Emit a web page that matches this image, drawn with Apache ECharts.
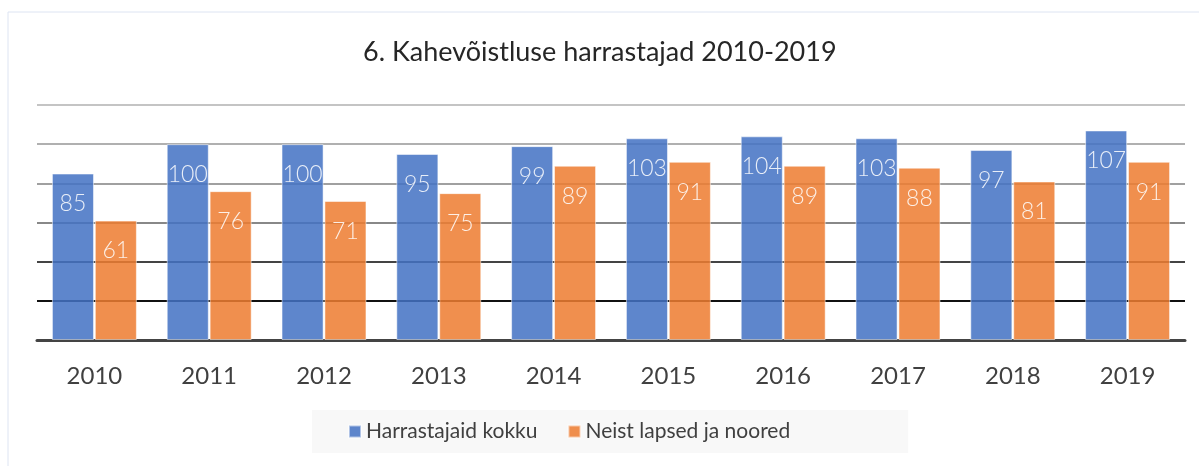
<!DOCTYPE html>
<html>
<head>
<meta charset="utf-8">
<script src="https://cdn.jsdelivr.net/npm/echarts@6/dist/echarts.min.js"></script>
<style>
  html, body { margin: 0; padding: 0; background: #fff; }
  #chart { width: 1199px; height: 466px; }
</style>
</head>
<body>
<div id="chart"></div>
<script>
var years = ['2010', '2011', '2012', '2013', '2014', '2015', '2016', '2017', '2018', '2019']
var kokku = [85, 100, 100, 95, 99, 103, 104, 103, 97, 107]
var noored = [61, 76, 71, 75, 89, 91, 89, 88, 81, 91]
var seriesNames = ['Harrastajaid kokku', 'Neist lapsed ja noored']

var myChart = echarts.init(document.getElementById('chart'))

var barLabel = {
  show: true,
  position: 'insideTop',
  distance: 19,
  color: '#fff',
  fontFamily: 'Lato',
  fontWeight: 300,
  fontSize: 23
}

var option = {
  backgroundColor: '#fff',
  animation: false,
  graphic: [{
    type: 'rect',
    shape: { x: 8, y: 12, width: 1220, height: 470 },
    style: { fill: 'none', stroke: '#dde4f2', lineWidth: 1 },
    silent: true
  }],
  title: {
    text: '6. Kahevõistluse harrastajad 2010-2019',
    left: 358,
    top: 34,
    textStyle: {
      fontFamily: 'Lato',
      fontWeight: 'normal',
      fontSize: 27,
      color: '#262626'
    }
  },
  legend: {
    data: seriesNames,
    left: 312,
    top: 410,
    padding: [11, 118, 11, 36],
    backgroundColor: '#f8f8f8',
    itemWidth: 12,
    itemHeight: 12,
    itemGap: 30,
    icon: 'rect',
    textStyle: { fontFamily: 'Lato', fontSize: 21, color: '#404040' }
  },
  grid: {
    left: 37,
    right: 14,
    top: 105,
    bottom: 126
  },
  xAxis: {
    type: 'category',
    data: years,
    axisLine: { lineStyle: { color: '#444', width: 3 } },
    axisTick: { show: false },
    axisLabel: {
      margin: 24,
      fontFamily: 'Lato',
      fontSize: 24,
      color: '#404040'
    }
  },
  yAxis: {
    type: 'value',
    min: 0,
    max: 120,
    interval: 20,
    axisLabel: { show: false },
    axisLine: { show: false },
    axisTick: { show: false },
    splitLine: {
      lineStyle: {
        width: 2,
        color: ['#444', '#111', '#444', '#888', '#a0a0a0', '#b0b0b0', '#c4c4c4']
      }
    }
  },
  series: [{
    name: seriesNames[0],
    type: 'bar',
    data: kokku,
    barGap: '2%',
    barCategoryGap: '26%',
    itemStyle: {
      color: '#4472c4',
      opacity: 0.86,
      borderColor: 'rgba(255,255,255,0.6)',
      borderWidth: 1
    },
    label: barLabel
  }, {
    name: seriesNames[1],
    type: 'bar',
    data: noored,
    itemStyle: {
      color: '#ed7d31',
      opacity: 0.86,
      borderColor: 'rgba(255,255,255,0.6)',
      borderWidth: 1
    },
    label: barLabel
  }]
}

myChart.setOption(option, true)
</script>
</body>
</html>
